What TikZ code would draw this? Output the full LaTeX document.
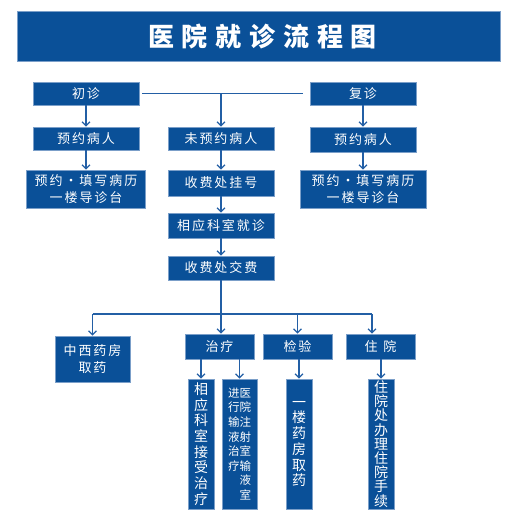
\documentclass[tikz,border=0pt]{standalone}
\usepackage{fontspec}
\setmainfont{Noto Sans CJK SC}
\usetikzlibrary{arrows.meta}
\definecolor{boxblue}{RGB}{10,80,152}
\definecolor{lineblue}{RGB}{35,95,165}
\tikzset{
  box/.style={draw=lineblue!60!white, line width=0.6pt, fill=boxblue, text=white,
    inner sep=0pt, align=center, minimum width=106, minimum height=23,
    font=\fontsize{13}{17}\selectfont\addfontfeature{LetterSpace=15}},
  vbox/.style={box, minimum width=26, minimum height=130,
    font=\fontsize{14}{15.7}\selectfont},
  link/.style={draw=lineblue, line width=1.3pt},
  arr/.style={link, -{Straight Barb[length=4pt,width=8pt]}},
}
\begin{document}
\begin{tikzpicture}[x=1pt,y=1pt,yscale=-1,xscale=1]
\useasboundingbox (0,0) rectangle (519,527);

%Title bar
\node[box, minimum width=483, minimum height=50, line width=0pt,
  font=\fontsize{26}{30}\selectfont\bfseries\addfontfeature{LetterSpace=30}]
  (title) at (258.5,37) {\kern8pt 医院就诊流程图};

%First and second visit
\node[box] (chu) at (86,93.5) {初诊};
\node[box] (fu) at (363,93.5) {复诊};
\node[box] (yy1) at (86,138.5) {预约病人};
\node[box] (wyy) at (221,138.5) {未预约病人};
\node[box, minimum height=25] (yy2) at (363,139.5) {预约病人};
\node[box, minimum width=119, minimum height=38] (tx1) at (86,189) {预约・填写病历\\一楼导诊台};
\node[box, minimum height=26] (gh) at (221,183) {收费处挂号};
\node[box, minimum width=126, minimum height=38] (tx2) at (363,189) {预约・填写病历\\一楼导诊台};
\node[box, minimum height=25] (jz) at (221,225.5) {相应科室就诊};
\node[box, minimum height=24] (jf) at (221,268) {收费处交费};

%Lower row
\node[box, minimum width=75, minimum height=46] (zy) at (92.5,359) {中西药房\\取药};
\node[box, minimum width=69, minimum height=25] (zl) at (219.5,346.5) {治疗};
\node[box, minimum width=69, minimum height=25] (jy) at (297.5,346.5) {检验};
\node[box, minimum width=69, minimum height=25] (zyuan) at (380.5,346.5) {住\kern6pt 院};

%Vertical boxes
\node[vbox] (v1) at (201,444) {相\\应\\科\\室\\接\\受\\治\\疗};
\node[vbox, minimum width=35, font=\fontsize{11.5}{14.6}\selectfont] (v2) at (239.5,444)
  {进医\\行院\\输注\\液射\\治室\\疗输\\\phantom{液}液\\\phantom{室}室};
\node[vbox] (v3) at (299,444) {一\\楼\\药\\房\\取\\药};
\node[vbox, font=\fontsize{14}{14.2}\selectfont] (v4) at (381,444) {住\\院\\处\\办\\理\\住\\院\\手\\续};

%Connectors
\draw[link, shorten <=3pt, shorten >=7pt] (chu.east) -- (fu.west);
\coordinate (top) at (wyy.north |- chu.east);
\draw[arr] (top) -- (wyy.north);
\draw[arr] (chu) -- (yy1);
\draw[arr] (yy1) -- (tx1);
\draw[arr] (fu) -- (yy2);
\draw[arr] (yy2) -- (tx2);
\draw[arr] (wyy) -- (gh);
\draw[arr] (gh) -- (jz);
\draw[arr] (jz) -- (jf);

\coordinate (bus) at (221,314);
\coordinate (busR) at (372,314);
\draw[link] (jf.south) -- (bus);
\draw[link] (zy.north |- bus) -- (busR);
\draw[arr] (zy.north |- bus) -- (zy.north);
\draw[arr] (bus) -- (bus |- zl.north);
\draw[arr] (jy.north |- bus) -- (jy.north);
\draw[arr] (busR) -- (busR |- zyuan.north);

\draw[arr] (v1.north |- zl.south) -- (v1.north);
\draw[arr] (v2.north |- zl.south) -- (v2.north);
\draw[arr] (v3.north |- jy.south) -- (v3.north);
\draw[arr] (v4.north |- zyuan.south) -- (v4.north);
\end{tikzpicture}
\end{document}
